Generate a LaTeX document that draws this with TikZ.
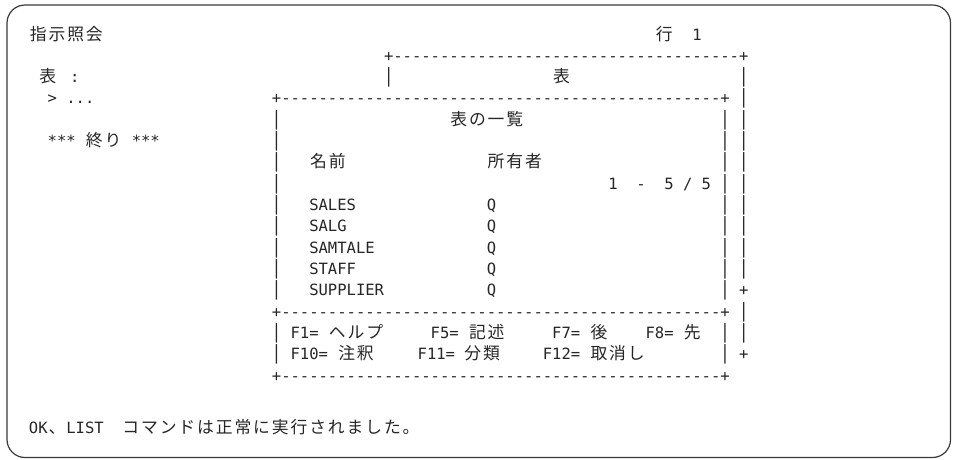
\documentclass[tikz,border=0pt]{standalone}
\usepackage{fontspec}
\usepackage{graphicx}
\newfontfamily\mono{DejaVu Sans Mono}[Ligatures=TeXOff]
\newfontfamily\jpf{Noto Sans CJK JP}
\definecolor{ink}{HTML}{262626}
\definecolor{framec}{HTML}{3A3A3A}
\newcommand\jloop[1]{\ifx\relax#1\else\makebox[18.686pt][c]{#1}\expandafter\jloop\fi}
\newcommand\J[1]{{\jpf\fontsize{16.8}{18}\selectfont\jloop#1\relax}}
\ExplSyntaxOn
\cs_new:Npn \rep #1#2 {\prg_replicate:nn {#1}{#2}}
\ExplSyntaxOff
\newcommand\vb{\scalebox{1}[1.26]{|}}
\tikzset{
 txt/.style={anchor=base west, inner sep=0pt, outer sep=0pt, text=ink, font=\mono\fontsize{15.52}{18}\selectfont},
 frame/.style={draw=framec, line width=1.2pt, rounded corners=18pt, fill=white}
}
\newcommand\M[4]{\node[txt] (#1) at ({19.65+9.343*(#2)},{40+21.33*((#3)-1)}) {#4};}
\begin{document}
\begin{tikzpicture}[x=1pt,y=-1pt]
\useasboundingbox (0,0) rectangle (953,459);
\draw[frame] (7,5) rectangle (950.5,457.5);
% row 1
\M{title}{1}{1}{\J{指示照会}}
\M{gyo}{68}{1}{\J{行}}
\M{gyon}{72}{1}{1}
% row 2
\M{otop}{39}{2}{+\rep{37}{-}+}
% row 3
\M{hyo}{2}{3}{\J{表}}
\M{colon}{5.4}{3}{:}
\M{ol3}{39}{3}{\vb}
\M{ohyo}{57}{3}{\J{表}}
\M{or3}{77}{3}{\vb}
% row 4
\M{gt}{3}{4}{>}
\M{dots}{5}{4}{...}
\M{itop}{27}{4}{+\rep{47}{-}+}
\M{or4}{77}{4}{\vb}
% row 5
\M{il5}{27}{5}{\vb}
\M{ititle}{46}{5}{\J{表の一覧}}
\M{ir5}{75}{5}{\vb}
\M{or5}{77}{5}{\vb}
% row 6
\M{starA}{3}{6}{***}
\M{owari}{7}{6}{\J{終り}}
\M{starB}{12}{6}{***}
\M{il6}{27}{6}{\vb}
\M{ir6}{75}{6}{\vb}
\M{or6}{77}{6}{\vb}
% row 7
\M{il7}{27}{7}{\vb}
\M{namae}{31}{7}{\J{名前}}
\M{owner}{50}{7}{\J{所有者}}
\M{ir7}{75}{7}{\vb}
\M{or7}{77}{7}{\vb}
% row 8
\M{il8}{27}{8}{\vb}
\M{cA}{63}{8}{1}
\M{cB}{66}{8}{-}
\M{cC}{69}{8}{5}
\M{cD}{71}{8}{/}
\M{cE}{73}{8}{5}
\M{ir8}{75}{8}{\vb}
\M{or8}{77}{8}{\vb}
% rows 9-13
\M{il9}{27}{9}{\vb}
\M{n9}{31}{9}{SALES}
\M{q9}{50}{9}{Q}
\M{ir9}{75}{9}{\vb}
\M{or9}{77}{9}{\vb}
\M{il10}{27}{10}{\vb}
\M{n10}{31}{10}{SALG}
\M{q10}{50}{10}{Q}
\M{ir10}{75}{10}{\vb}
\M{or10}{77}{10}{\vb}
\M{il11}{27}{11}{\vb}
\M{n11}{31}{11}{SAMTALE}
\M{q11}{50}{11}{Q}
\M{ir11}{75}{11}{\vb}
\M{or11}{77}{11}{\vb}
\M{il12}{27}{12}{\vb}
\M{n12}{31}{12}{STAFF}
\M{q12}{50}{12}{Q}
\M{ir12}{75}{12}{\vb}
\M{or12}{77}{12}{\vb}
\M{il13}{27}{13}{\vb}
\M{n13}{31}{13}{SUPPLIER}
\M{q13}{50}{13}{Q}
\M{ir13}{75}{13}{\vb}
\M{or13}{77}{13}{+}
% row 14
\M{isep}{27}{14}{+\rep{47}{-}+}
\M{or14}{77}{14}{\vb}
% row 15
\M{il15}{27}{15}{\vb}
\M{fA}{29}{15}{F1=}
\M{fAt}{33}{15}{\J{ヘルプ}}
\M{fB}{44}{15}{F5=}
\M{fBt}{48}{15}{\J{記述}}
\M{fC}{57}{15}{F7=}
\M{fCt}{61}{15}{\J{後}}
\M{fD}{67}{15}{F8=}
\M{fDt}{71}{15}{\J{先}}
\M{ir15}{75}{15}{\vb}
\M{or15}{77}{15}{\vb}
% row 16
\M{il16}{27}{16}{\vb}
\M{fE}{29}{16}{F10=}
\M{fEt}{34}{16}{\J{注釈}}
\M{fF}{42.6}{16}{F11=}
\M{fFt}{47.5}{16}{\J{分類}}
\M{fG}{56}{16}{F12=}
\M{fGt}{61}{16}{\J{取消し}}
\M{ir16}{75}{16}{\vb}
\M{or16}{77}{16}{+}
% row 17
\M{ibot}{27}{17}{+\rep{47}{-}+}
% message
\node[txt] (mA) at ({19.65+9.343*1},433) {OK};
\node[txt] (mB) at ({19.65+9.343*3.0},433) {\J{、}};
\node[txt] (mC) at ({19.65+9.343*5.0},433) {LIST};
\node[txt] (mD) at ({19.65+9.343*10.9},433) {\J{コマンドは正常に実行されました。}};
\end{tikzpicture}
\end{document}
